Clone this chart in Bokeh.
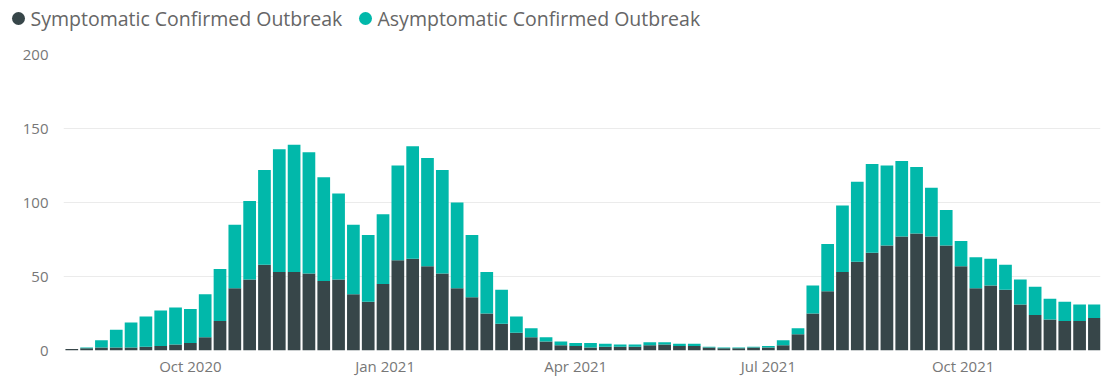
import pandas as pd
from bokeh.plotting import figure
from bokeh.layouts import column, row
from bokeh.models import (ColumnDataSource, FixedTicker, DatetimeTickFormatter, Range1d)
from bokeh.core.properties import value
from bokeh.embed import file_html
from bokeh.resources import INLINE

# ---- data (weekly, Monday to Saturday) ----
first_monday = "2020-08-03"
symptomatic = [1, 1.5, 2, 2, 2, 2.5, 3, 4, 5, 9,
               20, 42, 48, 58, 53, 53, 52, 47, 48, 38,
               33, 45, 61, 62, 57, 52, 42, 36, 25, 18,
               12, 9, 6, 3.5, 3, 2, 2.5, 2.5, 2.5, 3.5,
               4, 3, 3, 2, 1.5, 1.5, 2, 2, 3.5, 11,
               25, 40, 53, 60, 66, 71, 77, 79, 77, 71,
               57, 42, 44, 41, 31, 24, 21, 20, 20, 22]
asymptomatic = [0, 0.5, 5, 12, 17, 20.5, 24, 25, 23, 29,
                35, 43, 53, 64, 83, 86, 82, 70, 58, 47,
                45, 47, 64, 76, 73, 70, 58, 42, 28, 23,
                11, 6, 3, 2.5, 2, 3, 2, 1.5, 1.5, 2,
                1.5, 1.5, 1.5, 0.5, 0.5, 0.5, 0.5, 1, 3.5, 4,
                19, 32, 45, 54, 60, 54, 51, 45, 33, 24,
                17, 21, 18, 17, 17, 19, 14, 13, 11, 9]
series_names = ["Symptomatic Confirmed Outbreak", "Asymptomatic Confirmed Outbreak"]
series_colors = ["#374649", "#01B8AA"]
x_tick_dates = ["2020-10-01", "2021-01-01", "2021-04-01", "2021-07-01", "2021-10-01"]
x_tick_labels = ["Oct 2020", "Jan 2021", "Apr 2021", "Jul 2021", "Oct 2021"]
y_ticks = [0, 50, 100, 150, 200]

DAY = 86400000
weeks = pd.date_range(first_monday, periods=len(symptomatic), freq="7D")
centers = weeks + pd.Timedelta(days=3)
total = [s + a for s, a in zip(symptomatic, asymptomatic)]
src = ColumnDataSource(dict(x=centers, sym=symptomatic, asym=asymptomatic, total=total))

FONT = "Open Sans"
W = 1114
LEG_H = 36

# ---- legend strip (pixel coordinates, y grows downward) ----
leg = figure(width=W, height=LEG_H, output_backend="svg", toolbar_location=None,
             x_range=Range1d(0, W), y_range=Range1d(LEG_H, 0),
             x_axis_location=None, y_axis_location=None,
             min_border_left=0, min_border_right=0, min_border_top=0, min_border_bottom=0)
leg.outline_line_color = None
leg.grid.grid_line_color = None
leg_src = ColumnDataSource(dict(cx=[18, 365], tx=[30, 377], y=[18, 18],
                                name=series_names, color=series_colors))
leg.scatter(x="cx", y="y", marker="circle", size=13, fill_color="color",
            line_color=None, source=leg_src)
leg.text(x="tx", y="y", text="name", source=leg_src, text_font=value(FONT),
         text_font_size="19.5px", text_color="#666666", text_baseline="middle",
         text_align="left")

# ---- main chart ----
p = figure(width=W, height=378 - LEG_H, x_axis_type="datetime",
           output_backend="svg", toolbar_location=None,
           x_range=Range1d(pd.Timestamp("2020-08-02 02:00"), pd.Timestamp("2021-12-04 21:00")),
           y_range=Range1d(0, 200),
           min_border_left=63, min_border_right=14, min_border_top=54 - LEG_H,
           min_border_bottom=28)
p.background_fill_color = "white"
p.border_fill_color = "white"
p.outline_line_color = None

p.vbar(x="x", bottom=0, top="sym", width=6 * DAY, source=src,
       fill_color=series_colors[0], line_color=None)
p.vbar(x="x", bottom="sym", top="total", width=6 * DAY, source=src,
       fill_color=series_colors[1], line_color=None)

tick_ms = [pd.Timestamp(d).value // 10**6 for d in x_tick_dates]
p.xaxis.ticker = FixedTicker(ticks=tick_ms)
p.xaxis.formatter = DatetimeTickFormatter(days="%b %Y", months="%b %Y", years="%b %Y")
p.xaxis.major_label_overrides = {float(t): lab for t, lab in zip(tick_ms, x_tick_labels)}
p.yaxis.ticker = FixedTicker(ticks=y_ticks)
for ax in (p.xaxis[0], p.yaxis[0]):
    ax.axis_line_color = None
    ax.major_tick_line_color = None
    ax.minor_tick_line_color = None
    ax.major_tick_out = 0
    ax.major_tick_in = 0
    ax.minor_tick_out = 0
    ax.minor_tick_in = 0
    ax.major_label_text_color = "#777777"
    ax.major_label_text_font = FONT
    ax.major_label_text_font_size = "15px"
p.xaxis.major_label_standoff = 5
p.yaxis.major_label_standoff = 15

p.xgrid.grid_line_color = None
p.ygrid.ticker = FixedTicker(ticks=y_ticks)
p.ygrid.grid_line_color = "#ebebeb"
p.ygrid.grid_line_width = 1

layout = column(row(leg), p, spacing=0)
open("out.html", "w").write(file_html(layout, INLINE))
